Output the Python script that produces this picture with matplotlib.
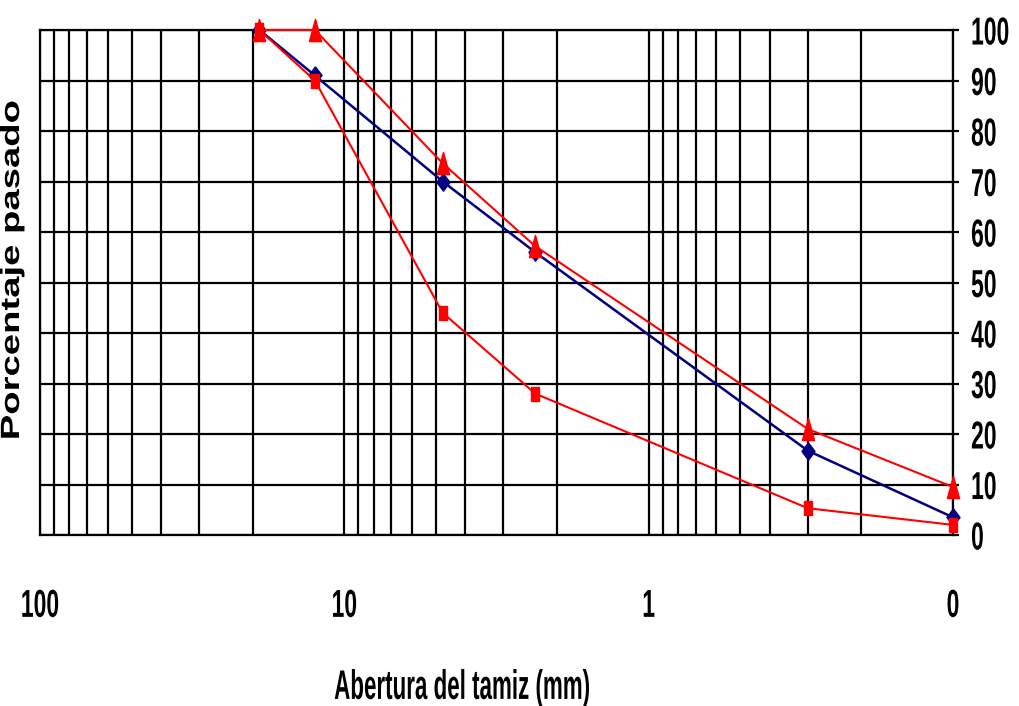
import matplotlib
matplotlib.use("Agg")
import matplotlib.pyplot as plt
from matplotlib import font_manager
from matplotlib.patheffects import AbstractPathEffect
from matplotlib.transforms import Affine2D
from matplotlib.ticker import FixedLocator, NullFormatter

# ---- data ----
sieve_mm = [19.0, 12.5, 4.75, 2.36, 0.3, 0.1]
blue_pass = [100, 91, 70, 56, 16.7, 3.5]
upper_limit = [100, 100, 73.6, 57.2, 21, 9.5]
lower_limit = [100, 90, 44, 28, 5.3, 2]
x_ticks = [100, 10, 1, 0.1]
x_tick_labels = ["100", "10", "1", "0"]
y_ticks = list(range(0, 101, 10))
y_tick_labels = [str(v) for v in y_ticks]


class Stretch(AbstractPathEffect):
    """Stretch glyph outlines about the centre of the text path."""
    def __init__(self, sx=1.0, sy=1.0):
        super().__init__()
        self.sx, self.sy = sx, sy

    def draw_path(self, renderer, gc, tpath, affine, rgbFace=None):
        ext = tpath.get_extents()
        cx = (ext.x0 + ext.x1) / 2
        cy = (ext.y0 + ext.y1) / 2
        t = Affine2D().translate(-cx, -cy).scale(self.sx, self.sy).translate(cx, cy)
        renderer.draw_path(gc, tpath, t + affine, rgbFace)


names = {f.name for f in font_manager.fontManager.ttflist}
if "Liberation Sans Narrow" in names:
    tick_family, tick_size, tick_sy = "Liberation Sans Narrow", 20, 1.4
else:
    tick_family, tick_size, tick_sy = "Liberation Sans", 16.5, 1.7

# tall marker shapes (the reference is stretched vertically)
tall_triangle = [(-0.55, -1), (0.55, -1), (0, 1), (-0.55, -1)]
tall_diamond = [(0, 1), (0.75, 0), (0, -1), (-0.75, 0), (0, 1)]
tall_square = [(-0.6, -1), (0.6, -1), (0.6, 1), (-0.6, 1), (-0.6, -1)]

fig = plt.figure(figsize=(10.19, 7.06), dpi=100)
ax = fig.add_axes([40 / 1019, 1 - 535 / 706, 913 / 1019, 505 / 706])

ax.set_xscale("log")
ax.set_xlim(100, 0.1)
ax.set_ylim(0, 100)

ax.plot(sieve_mm, blue_pass, color="#000080", lw=1.8, marker=tall_diamond,
        ms=12.5, clip_on=False, zorder=3)
ax.plot(sieve_mm, lower_limit, color="#FF0000", lw=1.5, marker=tall_square,
        ms=9.5, clip_on=False, zorder=4)
ax.plot(sieve_mm, upper_limit, color="#FF0000", lw=1.5, marker=tall_triangle,
        ms=16, clip_on=False, zorder=5)

ax.xaxis.set_major_locator(FixedLocator(x_ticks))
ax.set_xticklabels(x_tick_labels)
ax.xaxis.set_minor_formatter(NullFormatter())
ax.yaxis.set_major_locator(FixedLocator(y_ticks))
ax.set_yticklabels(y_tick_labels)

ax.grid(which="both", axis="x", color="black", lw=1.6)
ax.grid(which="major", axis="y", color="black", lw=1.6)
for s in ax.spines.values():
    s.set_color("black")
    s.set_linewidth(1.6)

ax.yaxis.tick_right()
ax.tick_params(axis="y", which="both", direction="out", length=4, width=1.6,
               pad=9, labelsize=tick_size)
ax.tick_params(axis="x", which="both", length=0, pad=42, labelsize=tick_size)

for lab in ax.get_xticklabels() + ax.get_yticklabels():
    lab.set_fontfamily(tick_family)
    lab.set_fontweight("bold")
    lab.set_path_effects([Stretch(1.0, tick_sy)])

xl = ax.set_xlabel("Abertura del tamiz (mm)", fontfamily=tick_family,
                   fontweight="bold", fontsize=tick_size + 1,
                   va="center", ha="center")
xl.set_path_effects([Stretch(0.92, tick_sy)])
ax.xaxis.set_label_coords((462 - 40) / 913, (535 - 688) / 505)

yl = ax.set_ylabel("Porcentaje pasado", fontfamily="Liberation Sans",
                   fontweight="bold", fontsize=19, va="center", ha="center")
yl.set_path_effects([Stretch(1.45, 1.0)])
ax.yaxis.set_label_position("left")
ax.yaxis.set_label_coords((24 - 40) / 913, (535 - 270) / 505)

fig.savefig("out.png", dpi=100)
